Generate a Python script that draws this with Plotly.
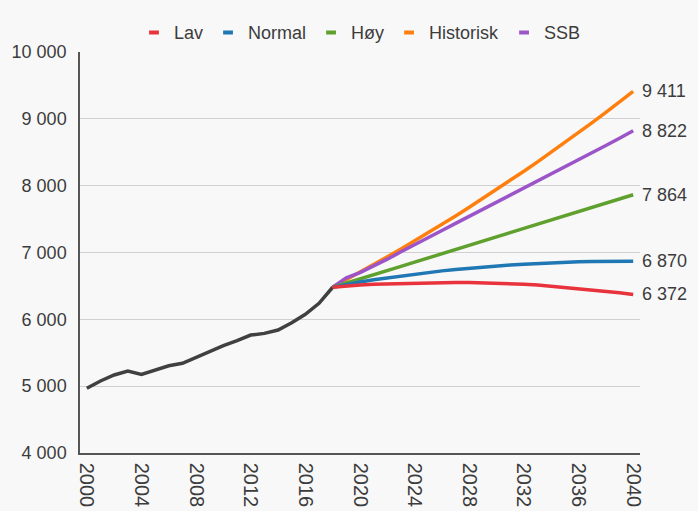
import plotly.graph_objects as go

# Historical series
hist_years = list(range(2000, 2019))
hist_vals = [4968, 5077, 5167, 5227, 5175, 5242, 5306, 5342, 5432, 5526, 5606,
             5680, 5765, 5790, 5840, 5950, 6075, 6240, 6480]

# Projection years
proj_years = list(range(2018, 2041))

lav = [6480, 6500, 6515, 6524, 6530, 6536, 6540, 6545, 6548, 6550, 6550, 6547,
       6542, 6535, 6525, 6512, 6495, 6478, 6460, 6440, 6420, 6397, 6372]
normal = [6480, 6522, 6560, 6592, 6620, 6648, 6675, 6700, 6725, 6746, 6765, 6783,
          6800, 6813, 6825, 6836, 6845, 6853, 6860, 6865, 6868, 6869, 6870]
hoy = [6480, 6540, 6600, 6665, 6730, 6792, 6855, 6920, 6985, 7048, 7110, 7172,
       7235, 7298, 7360, 7422, 7485, 7548, 7610, 7674, 7737, 7800, 7864]
historisk = [6480, 6591, 6704, 6818, 6935, 7053, 7174, 7296, 7421, 7548, 7677,
             7808, 7942, 8077, 8216, 8356, 8499, 8645, 8793, 8943, 9096, 9252, 9411]
ssb = [6480, 6620, 6700, 6795, 6900, 7010, 7120, 7225, 7330, 7435, 7540, 7645,
       7750, 7855, 7960, 8065, 8170, 8275, 8385, 8490, 8600, 8710, 8822]

series_names = ["Lav", "Normal", "Høy", "Historisk", "SSB"]
series_vals = [lav, normal, hoy, historisk, ssb]
series_colors = ["#e8333c", "#1f77b4", "#5fa02e", "#ff7f0e", "#9b55c9"]

y_ticks = [4000, 5000, 6000, 7000, 8000, 9000, 10000]
x_ticks = list(range(2000, 2041, 4))

FONT = "Liberation Sans, Arial, sans-serif"
TXT = "#3c3c3c"

fig = go.Figure()

fig.add_trace(go.Scatter(x=hist_years, y=hist_vals, mode="lines",
                         line=dict(color="#404040", width=3.5),
                         showlegend=False, hoverinfo="skip"))

draw_order = [3, 4, 2, 1, 0]
for i in draw_order:
    fig.add_trace(go.Scatter(x=proj_years, y=series_vals[i], mode="lines",
                             name=series_names[i],
                             line=dict(color=series_colors[i], width=3.5),
                             showlegend=False, legendgroup=series_names[i]))

# legend entries with short dash markers
for name, col in zip(series_names, series_colors):
    fig.add_trace(go.Scatter(x=[None], y=[None], mode="markers", name=name,
                             legendgroup=name,
                             marker=dict(symbol="line-ew", size=7,
                                         line=dict(color=col, width=4))))

# end labels
for vals, col in zip(series_vals, series_colors):
    v = vals[-1]
    fig.add_annotation(x=proj_years[-1], y=v, text=f"{v:,}".replace(",", " "),
                       showarrow=False, xanchor="left", yanchor="middle",
                       xshift=7, font=dict(size=18, color=TXT, family=FONT))

fig.update_layout(
    width=698, height=511,
    margin=dict(l=80, r=58, t=52, b=58, autoexpand=False),
    paper_bgcolor="#f8f8f8",
    plot_bgcolor="#f8f8f8",
    font=dict(family=FONT, size=18, color=TXT),
    separators=". ",
    showlegend=True,
    legend=dict(orientation="h", x=0.5, xanchor="center", y=1.048,
                yanchor="middle", font=dict(size=18, color=TXT, family=FONT),
                itemwidth=30, tracegroupgap=0, bgcolor="rgba(0,0,0,0)"),
    xaxis=dict(range=[1999.5, 2040.5], tickvals=x_ticks, tickangle=90,
               showgrid=False, zeroline=False, showline=True,
               linecolor="#555555", linewidth=1.5, ticks="",
               ticklabelstandoff=4, automargin=False,
               tickfont=dict(size=20, color=TXT, family=FONT)),
    yaxis=dict(range=[4000, 10000], tickvals=y_ticks, tickformat=",d",
               showgrid=True, gridcolor="#d0d0d0", gridwidth=1,
               zeroline=False, showline=True, linecolor="#555555",
               linewidth=1.5, ticks="", ticklabelstandoff=8, automargin=False,
               tickfont=dict(size=18, color=TXT, family=FONT)),
)

fig.write_html("out.html", config={"displayModeBar": False},
               post_script="document.body.style.margin='0px';document.body.style.overflow='hidden';")
